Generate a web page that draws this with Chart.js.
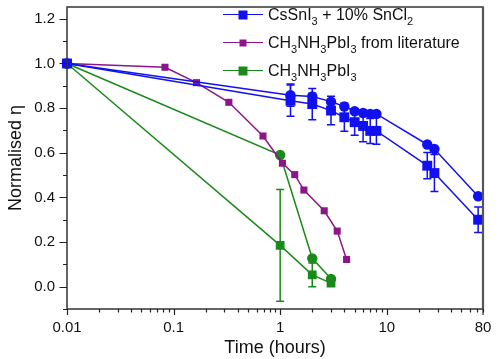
<!DOCTYPE html>
<html>
<head>
<meta charset="utf-8">
<script src="https://cdn.jsdelivr.net/npm/chart.js@4/dist/chart.umd.min.js"></script>
<style>
  html, body { margin: 0; padding: 0; background: #fff; }
  #wrap { position: relative; width: 499px; height: 359px; }
  #legend { position: absolute; left: 0; top: 0; font-family: "Liberation Sans", Arial, sans-serif; font-size: 16px; color: #111; }
  .row { position: absolute; left: 223px; white-space: nowrap; display: flex; align-items: center; transform: translateY(-50%); }
  .sym { position: relative; width: 40px; height: 12px; margin-right: 5px; }
  .sym .ln { position: absolute; left: 0; right: 0; top: 5px; height: 0; border-top: 1.6px solid; }
  .sym .mk { position: absolute; left: 50%; top: 50%; transform: translate(-50%, -50%); }
  sub { font-size: 11px; vertical-align: -5px; line-height: 0; }
</style>
</head>
<body>
<div id="wrap">
  <canvas id="c" width="499" height="359"></canvas>
  <div id="legend">
    <div class="row" style="top:15px"><span class="sym"><span class="ln" style="border-color:#1010f0"></span><span class="mk" style="width:9px;height:9px;background:#1010f0"></span></span><span>CsSnI<sub>3</sub> + 10% SnCl<sub>2</sub></span></div>
    <div class="row" style="top:43px"><span class="sym"><span class="ln" style="border-color:#8a168a"></span><span class="mk" style="width:7px;height:7px;background:#8a168a"></span></span><span>CH<sub>3</sub>NH<sub>3</sub>PbI<sub>3</sub> from literature</span></div>
    <div class="row" style="top:71px"><span class="sym"><span class="ln" style="border-color:#1a8a1a"></span><span class="mk" style="width:9px;height:9px;background:#1a8a1a"></span></span><span>CH<sub>3</sub>NH<sub>3</sub>PbI<sub>3</sub></span></div>
  </div>
</div>
<script>
// ---- Data ----
const timeBlue = [0.01, 1.25, 2, 3, 4, 5, 6, 7, 8, 24, 28, 72];
const blueCircle = [1.0, 0.858, 0.852, 0.829, 0.807, 0.786, 0.778, 0.774, 0.774, 0.637, 0.617, 0.405];
const blueCircleErr = [0, 0.05, 0.015, 0.01, 0, 0, 0, 0, 0, 0, 0, 0];
const blueSquare = [1.0, 0.833, 0.818, 0.789, 0.759, 0.737, 0.72, 0.698, 0.698, 0.542, 0.509, 0.30];
const blueSquareErr = [0, 0.07, 0.07, 0.064, 0.063, 0.059, 0.071, 0.056, 0.06, 0.059, 0.083, 0.057];

const timeLit = [0.01, 0.083, 0.164, 0.33, 0.69, 1.05, 1.37, 1.67, 2.59, 3.43, 4.2];
const litEta = [1.0, 0.983, 0.914, 0.826, 0.675, 0.553, 0.502, 0.433, 0.340, 0.249, 0.122];

const timeGreen = [0.01, 1, 2, 3];
const greenCircle = [1.0, 0.590, 0.127, 0.035];
const greenCircleErr = [0, 0, 0, 0];
const greenSquare = [1.0, 0.185, 0.053, 0.016];
const greenSquareErr = [0, 0.25, 0.053, 0];

const xTickValues = [0.01, 0.1, 1, 10, 80];
const xTickLabels = ['0.01', '0.1', '1', '10', '80'];
const yTickValues = [0, 0.2, 0.4, 0.6, 0.8, 1.0, 1.2];
const yTickLabels = ['0.0', '0.2', '0.4', '0.6', '0.8', '1.0', '1.2'];

const BLUE = '#1010f0', PURPLE = '#8a168a', GREEN = '#1a8a1a';

function pts(xs, ys) { return xs.map((x, i) => ({ x: x, y: ys[i] })); }

function ds(label, xs, ys, errs, color, style, radius) {
  return {
    label: label, data: pts(xs, ys), errors: errs,
    borderColor: color, backgroundColor: color,
    borderWidth: 1.5, pointStyle: style, pointRadius: radius, pointHoverRadius: radius,
    pointBorderWidth: 0, tension: 0, clip: false
  };
}

function zeroPad(s) { s.paddingLeft = 0; s.paddingRight = 0; s.paddingTop = 0; s.paddingBottom = 0; }

const errorBarPlugin = {
  id: 'errorBars',
  beforeDatasetsDraw(chart) {
    const ctx = chart.ctx, ys = chart.scales.y, xs = chart.scales.x;
    chart.data.datasets.forEach((d) => {
      if (!d.errors) return;
      ctx.save();
      ctx.strokeStyle = d.borderColor; ctx.lineWidth = 1.5;
      d.data.forEach((p, i) => {
        const e = d.errors[i];
        if (!e) return;
        const px = xs.getPixelForValue(p.x);
        const top = ys.getPixelForValue(p.y + e), bot = ys.getPixelForValue(p.y - e);
        ctx.beginPath();
        ctx.moveTo(px, top); ctx.lineTo(px, bot);
        ctx.moveTo(px - 4, top); ctx.lineTo(px + 4, top);
        ctx.moveTo(px - 4, bot); ctx.lineTo(px + 4, bot);
        ctx.stroke();
      });
      ctx.restore();
    });
  }
};

const framePlugin = {
  id: 'frame',
  afterDraw(chart) {
    const ctx = chart.ctx, a = chart.chartArea, xs = chart.scales.x, ys = chart.scales.y;
    ctx.save();
    ctx.strokeStyle = '#333333'; ctx.lineWidth = 1.5;
    ctx.strokeRect(a.left, a.top, a.right - a.left, a.bottom - a.top);
    ctx.strokeStyle = '#555555'; ctx.lineWidth = 2.2;
    ctx.beginPath(); ctx.moveTo(a.right, a.top); ctx.lineTo(a.right, a.bottom); ctx.stroke();
    ctx.lineWidth = 1.2; ctx.strokeStyle = '#222222';
    ctx.beginPath();
    for (let k = -2; k <= 1; k++) {
      for (let m = 1; m <= 9; m++) {
        const v = m * Math.pow(10, k);
        if (v > 80) continue;
        const px = Math.round(xs.getPixelForValue(v)) + 0.5;
        const len = (m === 1) ? 6 : 3.5;
        ctx.moveTo(px, a.bottom); ctx.lineTo(px, a.bottom + len);
      }
    }
    const p80 = xs.getPixelForValue(80);
    ctx.moveTo(p80, a.bottom); ctx.lineTo(p80, a.bottom + 6);
    for (let j = -1; j <= 12; j++) {
      const v = j / 10;
      const py = Math.round(ys.getPixelForValue(v)) + 0.5;
      const len = (j % 2 === 0) ? 7.5 : 4;
      ctx.moveTo(a.left, py); ctx.lineTo(a.left - len, py);
    }
    ctx.stroke();
    ctx.restore();
  }
};

const FONT = "'Liberation Sans', Arial, sans-serif";

new Chart(document.getElementById('c'), {
  type: 'line',
  data: {
    datasets: [
      ds('CsSnI3 + 10% SnCl2 (circles)', timeBlue, blueCircle, blueCircleErr, BLUE, 'circle', 5.2),
      ds('CsSnI3 + 10% SnCl2', timeBlue, blueSquare, blueSquareErr, BLUE, 'rect', 7),
      ds('CH3NH3PbI3 from literature', timeLit, litEta, null, PURPLE, 'rect', 5),
      ds('CH3NH3PbI3 (circles)', timeGreen, greenCircle, greenCircleErr, GREEN, 'circle', 5.2),
      ds('CH3NH3PbI3', timeGreen, greenSquare, greenSquareErr, GREEN, 'rect', 6.2)
    ]
  },
  options: {
    responsive: false,
    animation: false,
    layout: { padding: { left: 0, right: 16, top: 3, bottom: 0 } },
    plugins: { legend: { display: false }, tooltip: { enabled: false } },
    scales: {
      x: {
        type: 'logarithmic', min: 0.01, max: 80,
        afterBuildTicks(s) { s.ticks = xTickValues.map(v => ({ value: v })); },
        afterFit(s) { s.height = 50; zeroPad(s); },
        ticks: {
          autoSkip: false, maxRotation: 0, padding: 10,
          color: '#111', font: { family: FONT, size: 15 },
          callback(v) { const i = xTickValues.indexOf(v); return i >= 0 ? xTickLabels[i] : ''; }
        },
        grid: { display: false, drawTicks: false },
        border: { display: false },
        title: { display: true, text: 'Time (hours)', color: '#111', font: { family: FONT, size: 18 }, padding: { top: 0, bottom: 0 } }
      },
      y: {
        type: 'linear', min: -0.1, max: 1.253,
        afterBuildTicks(s) { s.ticks = yTickValues.map(v => ({ value: v })); },
        afterFit(s) { s.width = 67; zeroPad(s); },
        ticks: {
          autoSkip: false, padding: 12,
          color: '#111', font: { family: FONT, size: 15 },
          callback(v) { const i = yTickValues.findIndex(t => Math.abs(t - v) < 1e-9); return i >= 0 ? yTickLabels[i] : ''; }
        },
        grid: { display: false, drawTicks: false },
        border: { display: false },
        title: { display: true, text: 'Normalised η', color: '#111', font: { family: FONT, size: 18 }, padding: { top: 5, bottom: 0 } }
      }
    }
  },
  plugins: [errorBarPlugin, framePlugin]
});
</script>
</body>
</html>
